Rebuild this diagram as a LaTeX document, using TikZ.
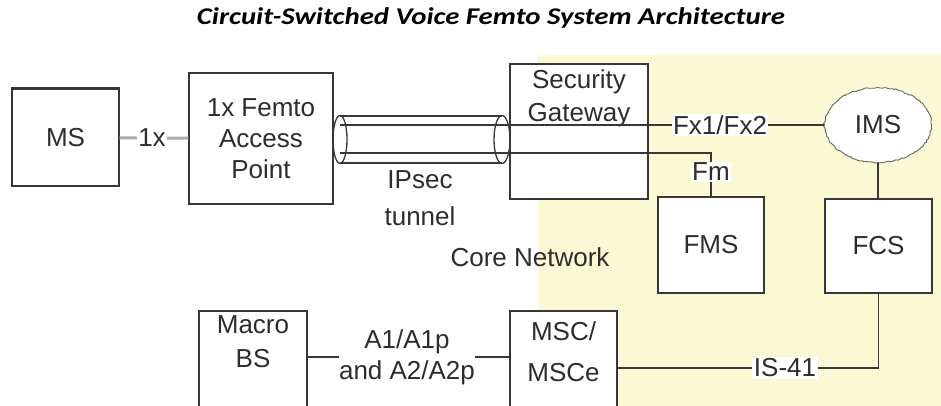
\documentclass[tikz,border=0pt]{standalone}
\usepackage{fontspec}
\setmainfont{Liberation Sans}
\newfontfamily\titlefont{Carlito}
\usetikzlibrary{positioning,shapes.geometric,decorations.pathmorphing}
\definecolor{coreYellow}{RGB}{251,249,211}
\definecolor{lineGray}{RGB}{55,55,55}
\definecolor{textGray}{RGB}{45,45,45}

\begin{document}
\begin{tikzpicture}[x=1pt,y=-1pt,
  netbox/.style={draw=lineGray, line width=1.3pt, fill=white, inner sep=0pt},
  boxtext/.style={text=textGray, font=\fontsize{26}{31}\selectfont, align=center, inner sep=0pt},
  link/.style={draw=lineGray, line width=1.3pt},
  linklabel/.style={boxtext, fill=white, inner sep=1.5pt}]
  \clip (0,0) rectangle (941,406);
  \fill[coreYellow] (538,55) rectangle (941,406);
  \node[font=\titlefont\bfseries\itshape\fontsize{24}{28}\selectfont, xscale=1.2, transform shape] (title) at (491,18)
    {Circuit-Switched Voice Femto System Architecture};

  \node[netbox, boxtext, minimum width=107pt, minimum height=97pt] (ms) at (65.5,137.5) {MS};
  \draw[line width=3pt, lineGray] (ms.north west) -- (ms.north east);
  \node[netbox, boxtext, minimum width=144pt, minimum height=131pt] (fap) at (261,138.5)
    {1x Femto\\Access\\Point};
  \node[netbox, minimum width=138pt, minimum height=135pt] (sgw) at (579,131.5) {};
  \node[boxtext, below=6pt of sgw.north] (sgwtext) {Security\\[2pt]Gateway};
  \node[netbox, boxtext, minimum width=106pt, minimum height=96pt] (fms) at (711,245) {FMS};
  \node[netbox, boxtext, minimum width=107pt, minimum height=94pt] (fcs) at (878.5,246) {FCS};
  \node[netbox, ellipse, draw=gray!80!black, line width=0.9pt, minimum width=107pt, minimum height=75pt,
    decorate, decoration={random steps, segment length=2pt, amplitude=0.7pt}] (ims) at (878,125) {};
  \node[boxtext] (imstext) at (ims) {IMS};
  \node[netbox, minimum width=108pt, minimum height=120pt] (mbs) at (253,371) {};
  \node[boxtext] (mbstext) at (253,342) {Macro\\[3pt]BS};
  \node[netbox, minimum width=107pt, minimum height=120pt] (msc) at (563.5,371) {};
  \node[boxtext] (msctext) at (563.5,352) {MSC/\\[10pt]MSCe};

  \coordinate (tunL) at (340,139.5);
  \coordinate (tunR) at (502,139.5);
  \coordinate (fxstart) at (340,125);
  \coordinate (fmstart) at (340,153);
  \coordinate (onexpos) at (152,138);
  \coordinate (fxpos) at (720,125);
  \coordinate (fmpos) at (711,172);
  \coordinate (a1pos) at (407,357);
  \coordinate (ispos) at (785,368);

  \draw[link, draw=gray!65, line width=3pt] (ms) -- (fap);
  \draw[link] (tunL) ++(0,-23.5) -- ++(162,0) (tunL) ++(0,23.5) -- ++(162,0);
  \draw[link] (tunL) ellipse [x radius=7, y radius=24];
  \draw[link] (tunR) ellipse [x radius=8, y radius=24];
  \draw[link] (fxstart) -- (ims.west);
  \draw[link] (fmstart) -- (fmstart -| fms.north) -- (fms.north);
  \draw[link] (ims.south) -- (ims.south |- fcs.north);
  \draw[link] (mbs.east |- a1pos) -- (msc.west |- a1pos);
  \draw[link] (msc.east |- ispos) -- (ispos -| fcs.south) -- (fcs.south);

  \node[linklabel] (onex) at (onexpos) {1x};
  \node[linklabel] (fxlabel) at (fxpos) {Fx1/Fx2};
  \node[linklabel] (fmlabel) at (fmpos) {Fm};
  \node[linklabel, inner sep=0pt] (a1label) at (a1pos) {A1/A1p\\and A2/A2p};
  \node[linklabel] (islabel) at (ispos) {IS-41};
  \node[boxtext] (ipsec) at (420,198) {IPsec\\[6pt]tunnel};
  \node[boxtext] (core) at (530,257) {Core Network};
\end{tikzpicture}
\end{document}
